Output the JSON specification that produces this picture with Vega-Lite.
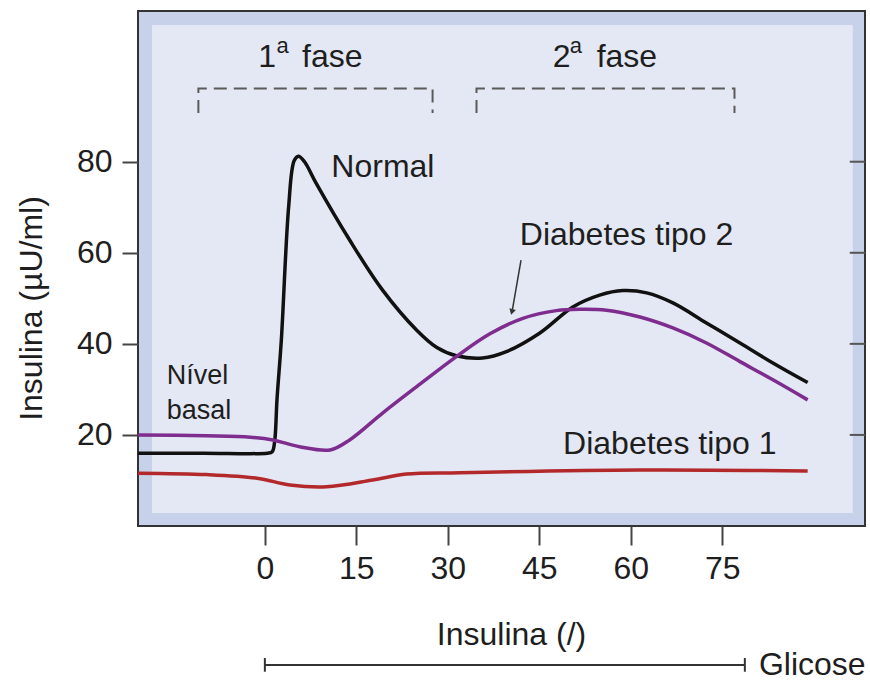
{
  "$schema": "https://vega.github.io/schema/vega-lite/v6.json",
  "width": 727,
  "height": 515,
  "autosize": {"type": "none"},
  "padding": {"left": 138, "top": 11, "right": 5, "bottom": 159},
  "background": "white",
  "config": {
    "view": {"stroke": "#333333", "strokeWidth": 2, "fill": "#c7d1ea"},
    "font": "Liberation Sans",
    "text": {"font": "Liberation Sans", "color": "#1e1e1e"}
  },
  "datasets": {
    "box": [{"x1": -18.5, "x2": 96.4, "y1": 2.85, "y2": 110.0}],
    "brackets": [
      {"g": "b1", "o": 1, "x": -10.9, "y": 90.7},
      {"g": "b1", "o": 2, "x": -10.9, "y": 96.1},
      {"g": "b1", "o": 3, "x": 27.5, "y": 96.1},
      {"g": "b1", "o": 4, "x": 27.5, "y": 90.7},
      {"g": "b2", "o": 1, "x": 34.7, "y": 90.7},
      {"g": "b2", "o": 2, "x": 34.7, "y": 96.1},
      {"g": "b2", "o": 3, "x": 77.0, "y": 96.1},
      {"g": "b2", "o": 4, "x": 77.0, "y": 90.7}
    ],
    "curves": [
      {"s": "Normal", "x": -20.8, "y": 16.0},
      {"s": "Normal", "x": -10, "y": 16.0},
      {"s": "Normal", "x": 0.4, "y": 16.0},
      {"s": "Normal", "x": 1.2, "y": 16.3},
      {"s": "Normal", "x": 1.6, "y": 18.5},
      {"s": "Normal", "x": 2.0, "y": 28.0},
      {"s": "Normal", "x": 2.7, "y": 40.8},
      {"s": "Normal", "x": 3.9, "y": 70.1},
      {"s": "Normal", "x": 4.8, "y": 80.2},
      {"s": "Normal", "x": 5.5, "y": 81.2},
      {"s": "Normal", "x": 6.5, "y": 80.0},
      {"s": "Normal", "x": 8.4, "y": 75.3},
      {"s": "Normal", "x": 13.9, "y": 62.8},
      {"s": "Normal", "x": 19.3, "y": 51.8},
      {"s": "Normal", "x": 24.9, "y": 43.0},
      {"s": "Normal", "x": 28.2, "y": 39.2},
      {"s": "Normal", "x": 31.4, "y": 37.4},
      {"s": "Normal", "x": 35.7, "y": 36.9},
      {"s": "Normal", "x": 39.6, "y": 38.3},
      {"s": "Normal", "x": 45.1, "y": 42.4},
      {"s": "Normal", "x": 50.5, "y": 48.1},
      {"s": "Normal", "x": 54.9, "y": 50.7},
      {"s": "Normal", "x": 58.7, "y": 51.7},
      {"s": "Normal", "x": 62.6, "y": 51.2},
      {"s": "Normal", "x": 66.9, "y": 49.0},
      {"s": "Normal", "x": 72.4, "y": 44.6},
      {"s": "Normal", "x": 77.9, "y": 40.2},
      {"s": "Normal", "x": 83.3, "y": 35.8},
      {"s": "Normal", "x": 89.0, "y": 31.5},
      {"s": "Tipo2", "x": -20.8, "y": 20.0},
      {"s": "Tipo2", "x": -9.6, "y": 19.8},
      {"s": "Tipo2", "x": -2.4, "y": 19.5},
      {"s": "Tipo2", "x": 1.3, "y": 18.9},
      {"s": "Tipo2", "x": 5.7, "y": 17.4},
      {"s": "Tipo2", "x": 10.7, "y": 16.7},
      {"s": "Tipo2", "x": 13.9, "y": 18.9},
      {"s": "Tipo2", "x": 19.3, "y": 24.8},
      {"s": "Tipo2", "x": 24.9, "y": 30.6},
      {"s": "Tipo2", "x": 31.4, "y": 37.2},
      {"s": "Tipo2", "x": 36.9, "y": 42.2},
      {"s": "Tipo2", "x": 42.3, "y": 45.6},
      {"s": "Tipo2", "x": 47.8, "y": 47.3},
      {"s": "Tipo2", "x": 51.7, "y": 47.6},
      {"s": "Tipo2", "x": 56.0, "y": 47.4},
      {"s": "Tipo2", "x": 61.5, "y": 45.9},
      {"s": "Tipo2", "x": 66.9, "y": 43.5},
      {"s": "Tipo2", "x": 72.4, "y": 40.2},
      {"s": "Tipo2", "x": 77.9, "y": 36.1},
      {"s": "Tipo2", "x": 83.3, "y": 32.1},
      {"s": "Tipo2", "x": 89.0, "y": 27.7},
      {"s": "Tipo1", "x": -20.8, "y": 11.6},
      {"s": "Tipo1", "x": -9.6, "y": 11.3},
      {"s": "Tipo1", "x": -1.3, "y": 10.5},
      {"s": "Tipo1", "x": 4.1, "y": 9.0},
      {"s": "Tipo1", "x": 10.1, "y": 8.6},
      {"s": "Tipo1", "x": 17.7, "y": 10.1},
      {"s": "Tipo1", "x": 23.2, "y": 11.4},
      {"s": "Tipo1", "x": 32.0, "y": 11.7},
      {"s": "Tipo1", "x": 61.5, "y": 12.3},
      {"s": "Tipo1", "x": 89.0, "y": 12.1}
    ],
    "labels": [
      {"x": 10.9, "y": 76.6, "t": "Normal"},
      {"x": 41.8, "y": 61.7, "t": "Diabetes tipo 2"},
      {"x": 48.9, "y": 15.8, "t": "Diabetes tipo 1"},
      {"x": -1.1, "y": 100.8, "t": "1"},
      {"x": 6.1, "y": 100.8, "t": "fase"},
      {"x": 47.2, "y": 100.8, "t": "2"},
      {"x": 54.4, "y": 100.8, "t": "fase"}
    ],
    "sups": [
      {"x": 1.9, "y": 103.8, "t": "a"},
      {"x": 50.0, "y": 103.8, "t": "a"}
    ],
    "basal": [
      {"x": -16.1, "y": 31.1, "t": "Nível"},
      {"x": -16.1, "y": 23.6, "t": "basal"}
    ],
    "arrow": [{"x": 42.0, "y": 58.4, "x2": 40.6, "y2": 47.6}],
    "arrowhead": [{"x": 40.5, "y": 47.0}],
    "glicose": [{"x": 0, "x2": 78.7, "y": -30.5}],
    "caps": [{"x": 0, "y": -29.0, "y2": -32.0}, {"x": 78.7, "y": -29.0, "y2": -32.0}],
    "glicoseText": [{"x": 81.0, "y": -30.5, "t": "Glicose"}],
    "rticks": [{"x": 95.9, "x2": 98.4, "y": 20}, {"x": 95.9, "x2": 98.4, "y": 40}, {"x": 95.9, "x2": 98.4, "y": 60}, {"x": 95.9, "x2": 98.4, "y": 80}]
  },
  "layer": [
    {
      "data": {"name": "box"},
      "mark": {"type": "rect", "color": "#e4e8f4"},
      "encoding": {
        "x": {"field": "x1", "type": "quantitative", "scale": {"domain": [-20.8, 98.4], "nice": false, "zero": false},
          "axis": {"values": [0, 15, 30, 45, 60, 75], "grid": false, "domain": false, "tickSize": 19, "tickWidth": 2, "tickColor": "#444444",
            "labelFontSize": 32, "labelFont": "Liberation Sans", "labelColor": "#1e1e1e", "labelPadding": 8,
            "title": "Insulina (/)", "titleFontSize": 32, "titleFont": "Liberation Sans", "titleFontWeight": "normal", "titleColor": "#1e1e1e",
            "titleX": 373, "titleY": 118, "titleBaseline": "alphabetic", "titleAlign": "center"}},
        "x2": {"field": "x2"},
        "y": {"field": "y1", "type": "quantitative", "scale": {"domain": [0, 113.1], "nice": false, "zero": false},
          "axis": {"values": [20, 40, 60, 80], "grid": false, "domain": false, "tickSize": 16, "tickWidth": 2, "tickColor": "#444444",
            "labelFontSize": 32, "labelFont": "Liberation Sans", "labelColor": "#1e1e1e", "labelPadding": 10,
            "title": "Insulina (µU/ml)", "titleFontSize": 32, "titleFont": "Liberation Sans", "titleFontWeight": "normal", "titleColor": "#1e1e1e",
            "titleAngle": -90, "titleX": -107, "titleY": 297, "titleBaseline": "middle", "titleAlign": "center"}},
        "y2": {"field": "y2"}
      }
    },
    {
      "data": {"name": "brackets"},
      "mark": {"type": "line", "color": "#5a5a5a", "strokeWidth": 2, "strokeDash": [13, 7]},
      "encoding": {
        "x": {"field": "x", "type": "quantitative"},
        "y": {"field": "y", "type": "quantitative"},
        "detail": {"field": "g"},
        "order": {"field": "o"}
      }
    },
    {
      "data": {"name": "curves"},
      "mark": {"type": "line", "strokeWidth": 3.5, "interpolate": "catmull-rom"},
      "encoding": {
        "x": {"field": "x", "type": "quantitative"},
        "y": {"field": "y", "type": "quantitative"},
        "color": {"field": "s", "type": "nominal", "scale": {"domain": ["Normal", "Tipo2", "Tipo1"], "range": ["#111111", "#7e2c8e", "#b3282b"]}, "legend": null}
      }
    },
    {
      "data": {"name": "labels"},
      "mark": {"type": "text", "fontSize": 32, "align": "left", "baseline": "alphabetic"},
      "encoding": {
        "x": {"field": "x", "type": "quantitative"},
        "y": {"field": "y", "type": "quantitative"},
        "text": {"field": "t"}
      }
    },
    {
      "data": {"name": "sups"},
      "mark": {"type": "text", "fontSize": 22, "align": "left", "baseline": "alphabetic"},
      "encoding": {
        "x": {"field": "x", "type": "quantitative"},
        "y": {"field": "y", "type": "quantitative"},
        "text": {"field": "t"}
      }
    },
    {
      "data": {"name": "basal"},
      "mark": {"type": "text", "fontSize": 27, "align": "left", "baseline": "alphabetic"},
      "encoding": {
        "x": {"field": "x", "type": "quantitative"},
        "y": {"field": "y", "type": "quantitative"},
        "text": {"field": "t"}
      }
    },
    {
      "data": {"name": "arrow"},
      "mark": {"type": "rule", "color": "#333333", "strokeWidth": 1.5},
      "encoding": {
        "x": {"field": "x", "type": "quantitative"},
        "y": {"field": "y", "type": "quantitative"},
        "x2": {"field": "x2"},
        "y2": {"field": "y2"}
      }
    },
    {
      "data": {"name": "arrowhead"},
      "mark": {"type": "point", "shape": "triangle-down", "filled": true, "color": "#333333", "size": 45, "angle": 15, "opacity": 1},
      "encoding": {
        "x": {"field": "x", "type": "quantitative"},
        "y": {"field": "y", "type": "quantitative"}
      }
    },
    {
      "data": {"name": "glicose"},
      "mark": {"type": "rule", "color": "#333333", "strokeWidth": 2},
      "encoding": {
        "x": {"field": "x", "type": "quantitative"},
        "x2": {"field": "x2"},
        "y": {"field": "y", "type": "quantitative"}
      }
    },
    {
      "data": {"name": "caps"},
      "mark": {"type": "rule", "color": "#333333", "strokeWidth": 2},
      "encoding": {
        "x": {"field": "x", "type": "quantitative"},
        "y": {"field": "y", "type": "quantitative"},
        "y2": {"field": "y2"}
      }
    },
    {
      "data": {"name": "glicoseText"},
      "mark": {"type": "text", "fontSize": 32, "align": "left", "baseline": "middle"},
      "encoding": {
        "x": {"field": "x", "type": "quantitative"},
        "y": {"field": "y", "type": "quantitative"},
        "text": {"field": "t"}
      }
    },
    {
      "data": {"name": "rticks"},
      "mark": {"type": "rule", "color": "#555555", "strokeWidth": 2},
      "encoding": {
        "x": {"field": "x", "type": "quantitative"},
        "x2": {"field": "x2"},
        "y": {"field": "y", "type": "quantitative"}
      }
    }
  ]
}
